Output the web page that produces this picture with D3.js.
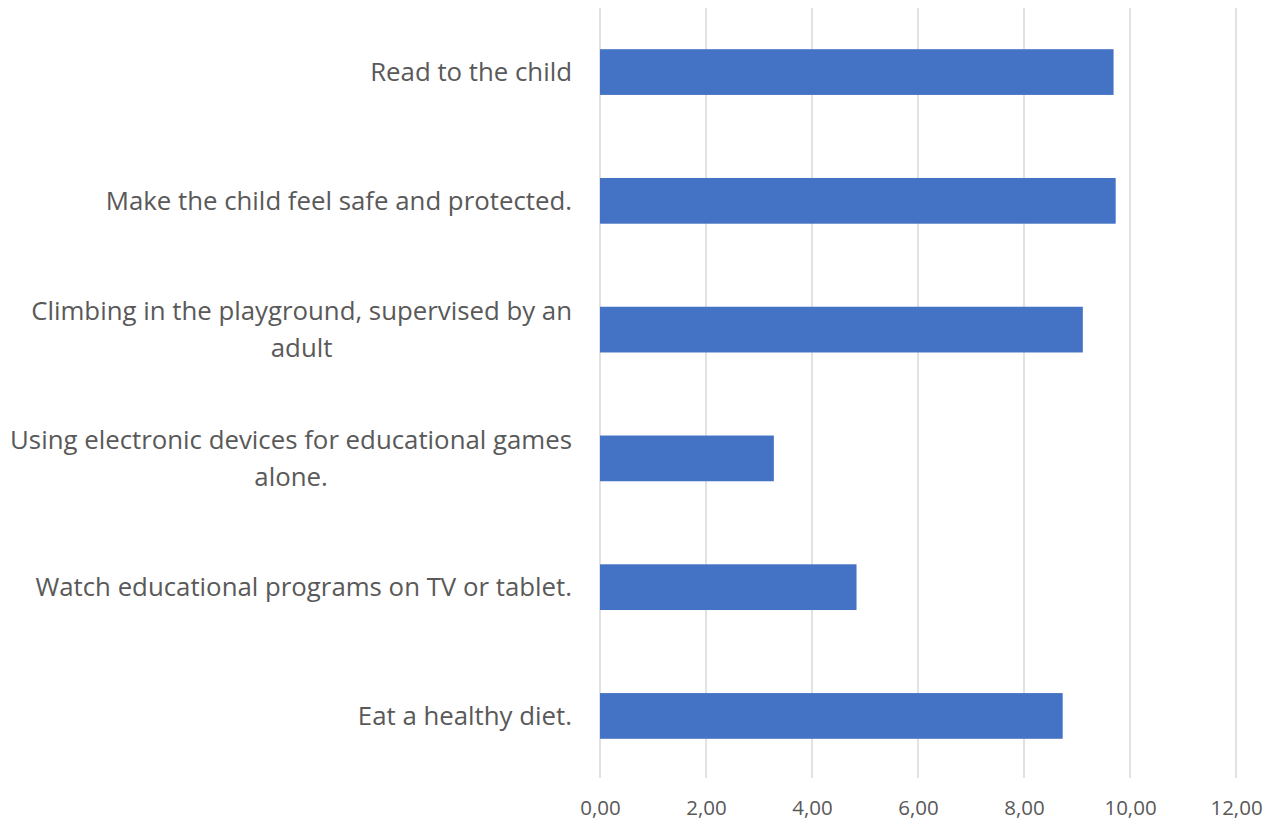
<!DOCTYPE html>
<html>
<head>
<meta charset="utf-8">
<script src="https://cdn.jsdelivr.net/npm/d3@7"></script>
<style>
  html, body { margin: 0; padding: 0; background: #fff; }
  svg { display: block; }
</style>
</head>
<body>
<svg id="chart" width="1266" height="824"></svg>
<script>
// Survey items, top to bottom, with their mean scores
const categories = [
  "Read to the child",
  "Make the child feel safe and protected.",
  "Climbing in the playground, supervised by an adult",
  "Using electronic devices for educational games alone.",
  "Watch educational programs on TV or tablet.",
  "Eat a healthy diet."
];
// Line breaks as the category labels wrap
const labelLines = [
  ["Read to the child"],
  ["Make the child feel safe and protected."],
  ["Climbing in the playground, supervised by an", "adult"],
  ["Using electronic devices for educational games", "alone."],
  ["Watch educational programs on TV or tablet."],
  ["Eat a healthy diet."]
];
const values = [9.69, 9.73, 9.11, 3.28, 4.84, 8.73];
const tickValues = [0, 2, 4, 6, 8, 10, 12];

const svg = d3.select("#chart");
const margin = { top: 8, right: 30, bottom: 46, left: 600 };
const width = 1266, height = 824;
const font = "'Open Sans', sans-serif";

const x = d3.scaleLinear()
  .domain([0, 12])
  .range([margin.left, 1236]);

const y = d3.scaleBand()
  .domain(categories)
  .range([margin.top, height - margin.bottom + 2])
  .paddingInner(0.645)
  .paddingOuter(0.32);

// Vertical gridlines
svg.append("g")
  .selectAll("line")
  .data(tickValues)
  .join("line")
  .attr("x1", d => x(d))
  .attr("x2", d => x(d))
  .attr("y1", margin.top)
  .attr("y2", height - margin.bottom)
  .attr("stroke", "#d9d9d9")
  .attr("stroke-width", 1.5);

// Bars
svg.append("g")
  .selectAll("rect")
  .data(categories)
  .join("rect")
  .attr("x", x(0))
  .attr("y", d => y(d))
  .attr("width", (d, i) => x(values[i]) - x(0))
  .attr("height", y.bandwidth())
  .attr("fill", "#4472c4");

// X axis tick labels
const xAxis = d3.axisBottom(x)
  .tickValues(tickValues)
  .tickSize(0)
  .tickPadding(0)
  .tickFormat(d => d3.format(".2f")(d).replace(".", ","));

svg.append("g")
  .attr("transform", `translate(0, ${height - margin.bottom + 22})`)
  .call(xAxis)
  .call(g => g.select(".domain").remove())
  .call(g => g.selectAll("text")
    .attr("fill", "#595959")
    .attr("font-family", font)
    .attr("font-size", 20.5));

// Category labels: wrapped lines, centred on each other, right-aligned block
const labelRight = 572;
const lineHeight = 36.5;
const labelG = svg.append("g");
categories.forEach((c, i) => {
  const lines = labelLines[i];
  const cy = y(c) + y.bandwidth() / 2;
  const t = labelG.append("text")
    .attr("fill", "#595959")
    .attr("font-family", font)
    .attr("font-size", 25.8)
    .attr("text-anchor", "middle");
  const spans = lines.map((ln, k) =>
    t.append("tspan")
      .attr("y", cy + (k - (lines.length - 1) / 2) * lineHeight)
      .attr("dy", "0.35em")
      .text(ln));
  const maxW = d3.max(spans, s => s.node().getComputedTextLength());
  spans.forEach(s => s.attr("x", labelRight - maxW / 2));
});
</script>
</body>
</html>
